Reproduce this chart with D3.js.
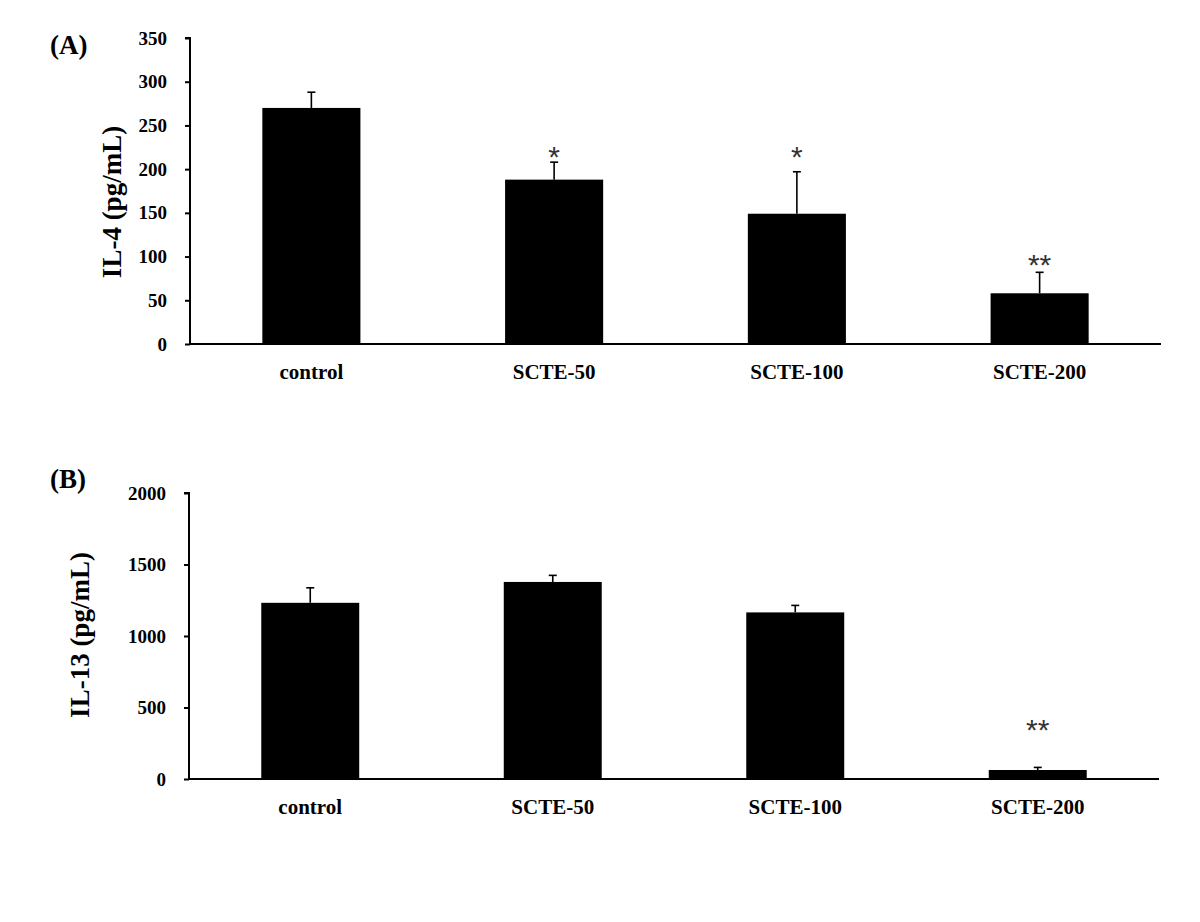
<!DOCTYPE html>
<html>
<head>
<meta charset="utf-8">
<script src="https://cdn.jsdelivr.net/npm/d3@7"></script>
<style>
  body { margin: 0; background: #fff; }
  text { font-family: "Liberation Serif", "Times New Roman", serif; font-weight: bold; }
</style>
</head>
<body>
<div id="chart"></div>
<script>
// groups
var groups = ["control", "SCTE-50", "SCTE-100", "SCTE-200"];

// IL-4 (panel A)
var il4_mean = [270, 188, 149, 58];
var il4_err = [18, 20, 48, 24];
var il4_sig = ["", "*", "*", "**"];
var il4_sig_at = [null, 222, 222, 98];
var il4_ticks = [0, 50, 100, 150, 200, 250, 300, 350];

// IL-13 (panel B)
var il13_mean = [1232, 1378, 1165, 63];
var il13_err = [105, 46, 49, 18];
var il13_sig = ["", "", "", "**"];
var il13_sig_at = [null, null, null, 395];
var il13_ticks = [0, 500, 1000, 1500, 2000];

var chart_width = 1200;
var chart_height = 922;

var svg = d3.select('#chart')
            .append('svg')
            .attr('width', chart_width)
            .attr('height', chart_height);

function draw_panel(opt){
    var x = d3.scaleBand()
              .domain(groups)
              .range([opt.left, opt.right])
              .paddingInner(0.596)
              .paddingOuter(0.298);

    var y = d3.scaleLinear()
              .domain([0, opt.max])
              .range([opt.bottom, opt.top]);

    var rows = groups.map(function(g, i){
        return {name: g, mean: opt.mean[i], err: opt.err[i], sig: opt.sig[i], sig_at: opt.sig_at[i]};
    });

    var g = svg.append('g');

    // bars
    g.selectAll('rect.bar')
     .data(rows)
     .enter()
     .append('rect')
     .attr('class', 'bar')
     .attr('x', function(d){ return x(d.name); })
     .attr('width', x.bandwidth())
     .attr('y', function(d){ return y(d.mean); })
     .attr('height', function(d){ return y(0) - y(d.mean); })
     .attr('fill', '#000');

    // error bars (upper only)
    var eb = g.selectAll('g.err')
              .data(rows)
              .enter()
              .append('g')
              .attr('class', 'err')
              .attr('stroke', '#000')
              .attr('stroke-width', 1.6);
    eb.append('line')
      .attr('x1', function(d){ return x(d.name) + x.bandwidth() / 2; })
      .attr('x2', function(d){ return x(d.name) + x.bandwidth() / 2; })
      .attr('y1', function(d){ return y(d.mean); })
      .attr('y2', function(d){ return y(d.mean + d.err); });
    eb.append('line')
      .attr('x1', function(d){ return x(d.name) + x.bandwidth() / 2 - 4; })
      .attr('x2', function(d){ return x(d.name) + x.bandwidth() / 2 + 4; })
      .attr('y1', function(d){ return y(d.mean + d.err); })
      .attr('y2', function(d){ return y(d.mean + d.err); });

    // significance stars
    g.selectAll('text.sig')
     .data(rows.filter(function(d){ return d.sig; }))
     .enter()
     .append('text')
     .attr('class', 'sig')
     .attr('x', function(d){ return x(d.name) + x.bandwidth() / 2; })
     .attr('y', function(d){ return y(d.sig_at) + 17; })
     .attr('text-anchor', 'middle')
     .style('font-family', '"Liberation Sans", Arial, sans-serif')
     .style('font-weight', 'normal')
     .style('font-size', '30px')
     .attr('fill', '#333')
     .text(function(d){ return d.sig; });

    // y axis
    var yAxis = d3.axisLeft(y)
                  .tickValues(opt.ticks)
                  .tickSize(5)
                  .tickPadding(18)
                  .tickFormat(d3.format('d'));
    var ya = g.append('g')
              .attr('transform', 'translate(' + opt.left + ',0)')
              .call(yAxis);
    ya.select('.domain')
      .attr('d', 'M-5,' + y(opt.max) + 'H0V' + y(0))
      .attr('stroke-width', 2);
    ya.selectAll('.tick line').attr('stroke-width', 2);
    ya.selectAll('.tick text')
      .style('font-family', '"Liberation Serif", serif')
      .style('font-size', '19px')
      .style('font-weight', 'bold')
      .attr('fill', '#000');

    // x axis
    var xAxis = d3.axisBottom(x).tickSize(0).tickPadding(20);
    var xa = g.append('g')
              .attr('transform', 'translate(0,' + opt.bottom + ')')
              .call(xAxis);
    xa.select('.domain')
      .attr('d', 'M' + opt.left + ',0H' + opt.right)
      .attr('stroke-width', 2);
    xa.selectAll('.tick text')
      .style('font-family', '"Liberation Serif", serif')
      .style('font-size', '21px')
      .style('font-weight', 'bold')
      .attr('fill', '#000');

    // y title
    g.append('text')
     .attr('transform', 'translate(' + opt.titleX + ',' + opt.titleY + ') rotate(-90)')
     .attr('text-anchor', 'middle')
     .attr('dominant-baseline', 'central')
     .style('font-size', '27px')
     .text(opt.title);

    // panel letter
    g.append('text')
     .attr('x', 50)
     .attr('y', opt.letterY)
     .style('font-size', '27px')
     .text(opt.letter);
}

draw_panel({
    left: 190, right: 1161, top: 38, bottom: 344, max: 350,
    mean: il4_mean, err: il4_err, sig: il4_sig, sig_at: il4_sig_at, ticks: il4_ticks,
    title: 'IL-4 (pg/mL)', titleX: 112, titleY: 202,
    letter: '(A)', letterY: 54
});

draw_panel({
    left: 189, right: 1159, top: 493, bottom: 779, max: 2000,
    mean: il13_mean, err: il13_err, sig: il13_sig, sig_at: il13_sig_at, ticks: il13_ticks,
    title: 'IL-13 (pg/mL)', titleX: 80, titleY: 635,
    letter: '(B)', letterY: 488
});
</script>
</body>
</html>
